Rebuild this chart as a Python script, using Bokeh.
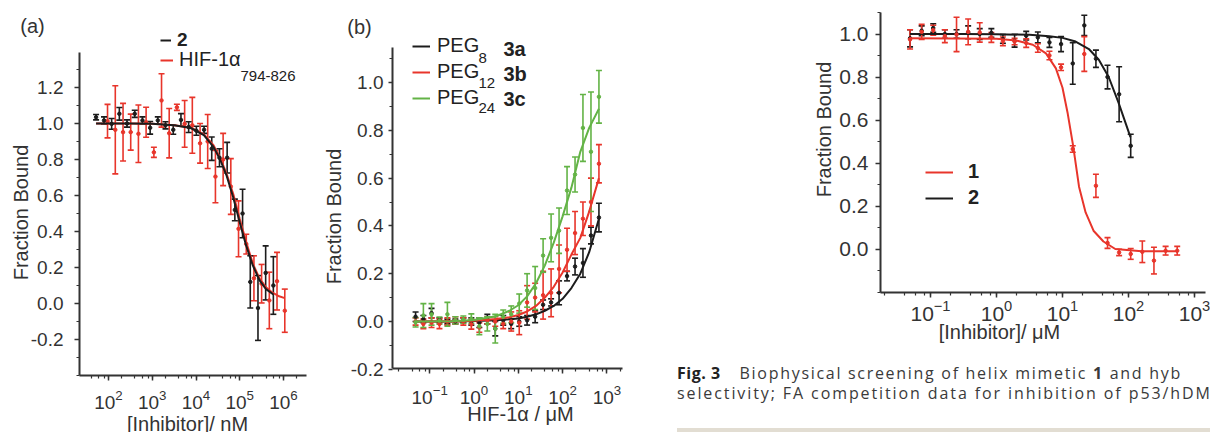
import math
from bokeh.plotting import figure
from bokeh.models import (Range1d, ColumnDataSource, Whisker, TeeHead, Legend, LegendItem,
                          Label, FixedTicker, PrintfTickFormatter, Div,
                          LogAxis, LinearAxis, LogTicker, LogTickFormatter)
from bokeh.layouts import row, column
from bokeh.core.properties import value
from bokeh.embed import file_html
from bokeh.resources import INLINE

# ---------------- data ----------------
# panel (a): [Inhibitor] / nM
a_black_x = [52, 79, 118, 177, 265, 398, 597, 895, 1340, 2010, 3020, 4530, 6790, 10200,
             15300, 22900, 34400, 51500, 77300, 116000, 174000, 261000, 391000, 586000]
a_black_y = [1.035, 1.017, 0.998, 1.054, 1.0, 1.054, 1.017, 0.976, 1.017, 0.99, 0.965, 1.02,
             0.98, 0.96, 0.965, 0.86, 0.81, 0.81, 0.52, 0.50, 0.12, -0.025, 0.17, 0.10]
a_black_err = [0.015, 0.02, 0.03, 0.035, 0.02, 0.02, 0.02, 0.035, 0.02, 0.02, 0.025, 0.035,
               0.03, 0.025, 0.02, 0.065, 0.05, 0.085, 0.06, 0.135, 0.145, 0.18, 0.15, 0.16]
a_red_x = [95, 143, 215, 322, 483, 724, 1090, 1630, 2440, 3660, 5500, 8240, 12400, 18500,
           27800, 41700, 62500, 93800, 141000, 211000, 316000, 474000, 711000, 1070000]
a_red_y = [1.013, 0.965, 0.952, 0.952, 0.943, 1.007, 0.84, 1.128, 0.946, 1.09, 0.998, 0.99,
           0.89, 0.90, 0.705, 0.80, 0.65, 0.415, 0.33, 0.14, 0.11, 0.017, 0.124, -0.04]
a_red_err = [0.093, 0.245, 0.16, 0.10, 0.16, 0.083, 0.028, 0.148, 0.137, 0.017, 0.13, 0.155,
             0.11, 0.15, 0.145, 0.145, 0.155, 0.155, 0.055, 0.125, 0.107, 0.157, 0.16, 0.12]
a_black_fit_x = [52, 316, 1000, 3160, 7590, 15100, 25100, 35500, 50100, 70800, 100000,
                 141000, 200000, 282000, 398000, 589000]
a_black_fit_y = [1.0, 1.0, 0.998, 0.99, 0.975, 0.935, 0.87, 0.80, 0.71, 0.59, 0.45,
                 0.32, 0.21, 0.13, 0.08, 0.05]
a_red_fit_x = [52, 316, 1000, 3160, 7590, 15100, 25100, 35500, 50100, 70800, 100000,
               141000, 200000, 282000, 398000, 562000, 794000, 1070000]
a_red_fit_y = [1.0, 1.0, 0.998, 0.99, 0.978, 0.94, 0.88, 0.81, 0.72, 0.61, 0.47,
               0.34, 0.22, 0.14, 0.09, 0.06, 0.04, 0.03]

# panel (b): HIF-1alpha / uM
b_x = [0.048, 0.072, 0.11, 0.166, 0.251, 0.38, 0.575, 0.871, 1.32, 2.0, 3.02, 4.57, 6.92,
       10.5, 15.8, 24.0, 36.3, 55.0, 83.2, 126, 191, 288, 437, 661]
b_black_y = [0.02, 0.01, 0.035, 0.005, 0.0, 0.0, 0.005, 0.0, -0.005, 0.01, -0.03, 0.005,
             -0.01, 0.0, 0.005, 0.02, 0.07, 0.08, 0.12, 0.19, 0.23, 0.245, 0.36, 0.435]
b_black_err = [0.02, 0.015, 0.02, 0.01, 0.01, 0.01, 0.01, 0.015, 0.02, 0.02, 0.03, 0.02,
               0.02, 0.02, 0.02, 0.025, 0.02, 0.015, 0.05, 0.02, 0.035, 0.06, 0.035, 0.06]
b_red_y = [0.0, -0.01, -0.005, -0.01, 0.0, 0.005, 0.0, -0.012, -0.025, 0.005, 0.0, -0.01,
           0.0, -0.005, 0.08, 0.10, 0.11, 0.12, 0.22, 0.30, 0.37, 0.43, 0.50, 0.66]
b_red_err = [0.015, 0.02, 0.02, 0.02, 0.015, 0.015, 0.015, 0.02, 0.02, 0.015, 0.02, 0.02,
             0.04, 0.05, 0.07, 0.06, 0.10, 0.10, 0.10, 0.09, 0.09, 0.07, 0.10, 0.08]
b_green_y = [-0.003, 0.025, 0.03, 0.004, 0.03, 0.005, 0.008, 0.012, -0.02, -0.01, -0.03, 0.02,
             0.03, 0.075, 0.13, 0.14, 0.276, 0.35, 0.38, 0.548, 0.615, 0.81, 0.71, 0.94]
b_green_err = [0.02, 0.05, 0.045, 0.015, 0.05, 0.015, 0.015, 0.02, 0.035, 0.03, 0.06, 0.028,
               0.035, 0.04, 0.07, 0.09, 0.07, 0.1, 0.095, 0.1, 0.073, 0.14, 0.25, 0.11]
b_fit_x = [0.048, 0.316, 1.0, 3.16, 6.31, 10.0, 15.8, 25.1, 39.8, 63.1, 100, 158, 251, 398, 661]
b_black_fit_y = [0.0, 0.0, 0.002, 0.005, 0.009, 0.013, 0.02, 0.03, 0.045, 0.065, 0.095,
                 0.14, 0.2, 0.29, 0.43]
b_red_fit_y = [0.0, 0.0, 0.003, 0.01, 0.018, 0.027, 0.042, 0.065, 0.1, 0.145, 0.205,
               0.28, 0.35, 0.46, 0.60]
b_green_fit_y = [0.0, 0.001, 0.006, 0.022, 0.045, 0.068, 0.105, 0.16, 0.235, 0.33, 0.44,
                 0.56, 0.71, 0.81, 0.89]

# panel (c): [Inhibitor] / uM
c_red_x = [0.049, 0.0735, 0.110, 0.165, 0.248, 0.372, 0.557, 0.836, 1.25, 1.88, 2.82, 4.23,
           6.34, 9.51, 14.3, 21.4, 32.1, 48.1, 72.1, 108, 162, 243, 365, 547]
c_red_y = [0.975, 1.01, 1.018, 0.99, 0.998, 1.01, 1.007, 0.984, 0.966, 0.965, 0.958, 0.935,
           0.90, 0.845, 0.465, 0.907, 0.294, 0.028, -0.016, -0.023, -0.013, -0.054, -0.008, -0.008]
c_red_err = [0.045, 0.035, 0.023, 0.03, 0.08, 0.06, 0.045, 0.023, 0.02, 0.015, 0.02, 0.02,
             0.02, 0.015, 0.015, 0.081, 0.054, 0.025, 0.015, 0.025, 0.05, 0.062, 0.02, 0.02]
c_black_x = [0.049, 0.0735, 0.110, 0.165, 0.248, 0.372, 0.557, 0.836, 1.25, 1.88, 2.82, 4.23,
             6.34, 9.51, 14.3, 21.4, 32.1, 48.1, 72.1, 108]
c_black_y = [0.98, 1.015, 1.028, 1.0, 1.0, 1.008, 1.0, 1.005, 0.977, 0.969, 0.992, 0.984,
             0.961, 0.953, 0.863, 1.04, 0.885, 0.80, 0.72, 0.48]
c_black_err = [0.04, 0.023, 0.02, 0.02, 0.02, 0.03, 0.025, 0.02, 0.02, 0.03, 0.02, 0.025,
               0.023, 0.035, 0.097, 0.047, 0.04, 0.055, 0.128, 0.054]
c_black_fit_x = [0.049, 0.316, 1.0, 3.16, 6.31, 10.0, 15.8, 25.1, 35.5, 50.1, 70.8, 107]
c_black_fit_y = [1.0, 1.0, 0.999, 0.996, 0.99, 0.982, 0.965, 0.93, 0.88, 0.80, 0.68, 0.52]
c_red_fit_x = [0.049, 1.0, 2.0, 3.55, 5.62, 7.94, 10.0, 12.0, 14.5, 17.8, 22.4, 29.5, 41.7,
               63.1, 158, 550]
c_red_fit_y = [0.98, 0.978, 0.97, 0.95, 0.91, 0.84, 0.75, 0.63, 0.48, 0.29, 0.17, 0.085,
               0.035, 0.0, -0.01, -0.01]

y_ticks_a = [-0.2, 0.0, 0.2, 0.4, 0.6, 0.8, 1.0, 1.2]
y_minor_a = [-0.4, -0.3, -0.1, 0.1, 0.3, 0.5, 0.7, 0.9, 1.1, 1.3]
y_ticks_b = [-0.2, 0.0, 0.2, 0.4, 0.6, 0.8, 1.0]
y_minor_b = [-0.1, 0.1, 0.3, 0.5, 0.7, 0.9, 1.1]
y_ticks_c = [0.0, 0.2, 0.4, 0.6, 0.8, 1.0]
y_minor_c = [-0.2, -0.1, 0.1, 0.3, 0.5, 0.7, 0.9, 1.1]

# ---------------- style ----------------
FONT = "Liberation Sans"
RED = "#e8352b"
BLACK = "#1c1c1c"
GREEN = "#63b346"
TXT = "#333333"
LEG = "#222222"


class Geom:
    """pixel <-> data mapping for one panel (pixels relative to the figure canvas)"""

    def __init__(self, w, h, px_ref, log_ref, px_dec, py_ref, y_ref, px_unit):
        self.w, self.h = w, h
        self.px_ref, self.log_ref, self.px_dec = px_ref, log_ref, px_dec
        self.py_ref, self.y_ref, self.px_unit = py_ref, y_ref, px_unit

    def x(self, px):
        return 10 ** (self.log_ref + (px - self.px_ref) / self.px_dec)

    def y(self, py):
        return self.y_ref - (py - self.py_ref) / self.px_unit


def make_panel(g, box, yticks, yminor, tick_size, ystd, xstd, ytick_out=5):
    left, right, top, bottom = box
    p = figure(width=g.w, height=g.h, x_axis_type="log",
               x_range=Range1d(g.x(0), g.x(g.w)), y_range=Range1d(g.y(g.h), g.y(0)),
               x_axis_location=None, y_axis_location=None,
               min_border=0, output_backend="svg", toolbar_location=None)
    p.outline_line_color = None
    p.grid.visible = False
    p.background_fill_color = "white"
    p.border_fill_color = "white"
    xa = LogAxis(fixed_location=g.y(bottom), bounds=(g.x(left), g.x(right)),
                 ticker=LogTicker(desired_num_ticks=6), formatter=LogTickFormatter())
    ya = LinearAxis(fixed_location=g.x(left), bounds=(g.y(bottom), g.y(top)),
                    ticker=FixedTicker(ticks=yticks, minor_ticks=yminor),
                    formatter=PrintfTickFormatter(format="%.1f"))
    p.add_layout(xa, "below")
    p.add_layout(ya, "left")
    for ax in (xa, ya):
        ax.axis_line_width = 2
        ax.axis_line_color = TXT
        ax.major_tick_line_color = TXT
        ax.minor_tick_line_color = TXT
        ax.major_tick_line_width = 1.5
        ax.minor_tick_line_width = 1.2
        ax.major_tick_in = 0
        ax.major_tick_out = 5
        ax.minor_tick_in = 0
        ax.minor_tick_out = 3
        ax.major_label_text_font = FONT
        ax.major_label_text_font_size = tick_size
        ax.major_label_text_color = TXT
    ya.major_tick_out = ytick_out
    ya.major_label_standoff = ystd
    xa.major_label_standoff = xstd
    return p


def add_text(p, g, px, py, text, size="20px", style="normal", align="center",
             baseline="middle", angle=0.0, color=TXT):
    p.add_layout(Label(x=g.x(px), y=g.y(py), text=text, text_font=FONT, text_font_size=size,
                       text_font_style=style, text_align=align, text_baseline=baseline,
                       angle=angle, text_color=color))


def series(p, xs, ys, errs, color, fit_x, fit_y):
    src = ColumnDataSource(dict(x=xs, y=ys,
                                lo=[v - e for v, e in zip(ys, errs)],
                                hi=[v + e for v, e in zip(ys, errs)]))
    p.add_layout(Whisker(source=src, base="x", lower="lo", upper="hi", dimension="height",
                         line_color=color, line_width=1.6,
                         lower_head=TeeHead(size=6, line_color=color, line_width=1.6),
                         upper_head=TeeHead(size=6, line_color=color, line_width=1.6)))
    p.scatter("x", "y", source=src, size=3.5, color=color)
    return p.line(fit_x, fit_y, line_color=color, line_width=2)


def legend(p, items, loc, gw, standoff, bold, lh=22, spacing=3, size="20px"):
    lg = Legend(items=[LegendItem(label=value(t), renderers=[r]) for t, r in items],
                location=loc, glyph_width=gw, glyph_height=lh, label_height=lh,
                label_standoff=standoff, spacing=spacing, padding=0, margin=0,
                border_line_color=None, background_fill_alpha=0,
                label_text_font=FONT, label_text_font_size=size,
                label_text_color=LEG,
                label_text_font_style="bold" if bold else "normal")
    p.add_layout(lg)


# ---------------- panel (a) ----------------
ga = Geom(320, 432, 108, 2, 43.75, 123, 1.0, 180)
pa = make_panel(ga, (79, 306, 52, 375), y_ticks_a, y_minor_a, "19px", 11, 9)
ra = series(pa, a_red_x, a_red_y, a_red_err, RED, a_red_fit_x, a_red_fit_y)
ka = series(pa, a_black_x, a_black_y, a_black_err, BLACK, a_black_fit_x, a_black_fit_y)
legend(pa, [("2", ka)], (160, 432 - 51), 11, 6, True, lh=16, size="19px")
legend(pa, [("HIF-1α", ra)], (160, 432 - 71), 13, 6, False, lh=16)
add_text(pa, ga, 240, 75, "794-826", size="15px", align="left", baseline="alphabetic", color=LEG)
add_text(pa, ga, 32, 25, "(a)")
add_text(pa, ga, 20, 212, "Fraction Bound", angle=math.pi / 2)
add_text(pa, ga, 187, 423, "[Inhibitor]/ nM")

# ---------------- panel (b) ----------------
gb_ = Geom(320, 432, 153.5, 0, 44.3, 321, 0.0, 239)
pb = make_panel(gb_, (72, 302, 47, 368), y_ticks_b, y_minor_b, "19px", 5, 11, ytick_out=4)
kb = series(pb, b_x, b_black_y, b_black_err, BLACK, b_fit_x, b_black_fit_y)
rb = series(pb, b_x, b_red_y, b_red_err, RED, b_fit_x, b_red_fit_y)
gb = series(pb, b_x, b_green_y, b_green_err, GREEN, b_fit_x, b_green_fit_y)
legend(pb, [("PEG", kb), ("PEG", rb), ("PEG", gb)], (92, 432 - 109), 18, 7, False)
for c, sub, tag in ((48, "8", "3a"), (73, "12", "3b"), (98, "24", "3c")):
    add_text(pb, gb_, 158, c + 9, sub, size="15px", align="left", baseline="alphabetic", color=LEG)
    add_text(pb, gb_, 183, c, tag, size="20px", style="bold", align="left", color=LEG)
add_text(pb, gb_, 39, 26, "(b)")
add_text(pb, gb_, 13, 216, "Fraction Bound", angle=math.pi / 2)
add_text(pb, gb_, 200, 413, "HIF-1α / μM")

# ---------------- panel (c) ----------------
gc = Geom(570, 354, 356, 0, 66, 248.5, 0.0, 215)
pc = make_panel(gc, (240, 565, 12, 292), y_ticks_c, y_minor_c, "21px", 7, 2)
kc = series(pc, c_black_x, c_black_y, c_black_err, BLACK, c_black_fit_x, c_black_fit_y)
rc = series(pc, c_red_x, c_red_y, c_red_err, RED, c_red_fit_x, c_red_fit_y)
legend(pc, [("1", rc), ("2", kc)], (285, 354 - 209), 28, 15, True)
add_text(pc, gc, 183, 129, "Fraction Bound", angle=math.pi / 2)
add_text(pc, gc, 359, 331, "[Inhibitor]/ μM")

caption_html = (
    '<div style="font-family:\'Open Sans\',sans-serif;font-size:16px;line-height:20px;'
    'color:#3a3a3a;white-space:nowrap;overflow:hidden;width:533px;padding-top:9px;">'
    '<b style="color:#222;letter-spacing:0.5px;margin-right:19px;">Fig. 3</b>'
    '<span style="letter-spacing:1.7px;">Biophysical screening of helix mimetic <b>1</b> and hyb</span><br>'
    '<span style="letter-spacing:1.9px;">selectivity; FA competition data for inhibition of p53/hDM2</span></div>'
    '<div style="margin-top:25px;height:4px;width:533px;background:#e2ddd2;"></div>'
)
cap = Div(text=caption_html, width=533, height=78, margin=(0, 0, 0, 37))

layout = row(pa, pb, column(pc, cap, spacing=0), spacing=0)
open("out.html", "w").write(file_html(layout, INLINE))
